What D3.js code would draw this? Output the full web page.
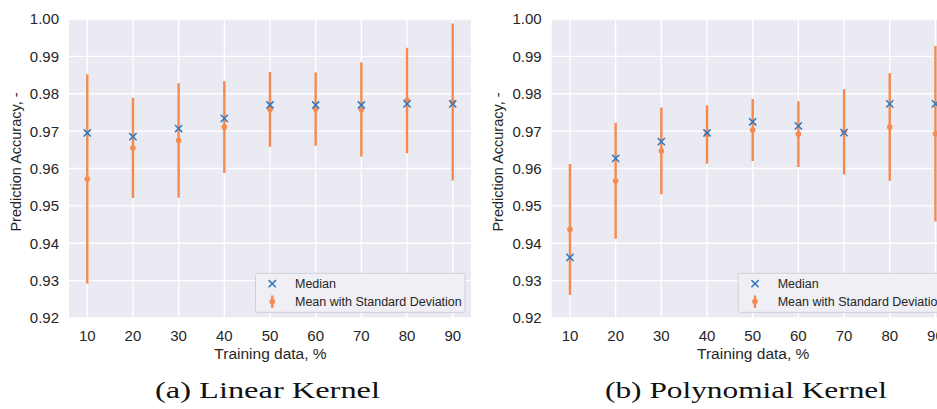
<!DOCTYPE html>
<html>
<head>
<meta charset="utf-8">
<script src="https://cdn.jsdelivr.net/npm/d3@7"></script>
<style>
  html, body { margin: 0; padding: 0; background: #ffffff; }
  svg { display: block; overflow: hidden; }
  text { font-family: "Liberation Sans", Arial, sans-serif; fill: #262626; }
  .cap { font-family: "Liberation Serif", "Times New Roman", serif; fill: #111; }
</style>
</head>
<body>
<svg id="chart" width="937" height="409"></svg>
<script>
// ---- data ----
const trainingPct = [10, 20, 30, 40, 50, 60, 70, 80, 90];
const yTicks = [0.92, 0.93, 0.94, 0.95, 0.96, 0.97, 0.98, 0.99, 1.00];

const linearMedian = [0.9695, 0.9685, 0.9707, 0.9734, 0.9770, 0.9770, 0.9770, 0.9773, 0.9773];
const linearMean   = [0.9572, 0.9655, 0.9675, 0.9711, 0.9758, 0.9759, 0.9758, 0.9782, 0.9778];
const linearStd    = [0.0280, 0.0134, 0.0153, 0.0123, 0.0100, 0.0098, 0.0126, 0.0141, 0.0210];

const polyMedian = [0.9362, 0.9627, 0.9672, 0.9695, 0.9725, 0.9714, 0.9696, 0.9773, 0.9773];
const polyMean   = [0.9437, 0.9567, 0.9647, 0.9691, 0.9703, 0.9692, 0.9698, 0.9711, 0.9693];
const polyStd    = [0.0175, 0.0155, 0.0116, 0.0078, 0.0083, 0.0088, 0.0114, 0.0144, 0.0235];

const panels = [
  { left: 69,    median: linearMedian, mean: linearMean, std: linearStd, caption: "(a) Linear Kernel",     capX: 267.5, capW: 225 },
  { left: 551.7, median: polyMedian,   mean: polyMean,   std: polyStd,   caption: "(b) Polynomial Kernel", capX: 746,   capW: 282 }
];

const xLabel = "Training data, %";
const yLabel = "Prediction Accuracy, -";
const legendLabels = ["Median", "Mean with Standard Deviation"];

// ---- styling ----
const BG = "#EAEAF2";
const ORANGE = "#F68A4F";
const BLUE = "#2F78C2";
const plotW = 402, plotTop = 19, plotBottom = 318;

const svg = d3.select("#chart");

panels.forEach(p => {
  const g = svg.append("g");
  const x = d3.scaleLinear().domain([6, 94]).range([p.left, p.left + plotW]);
  const y = d3.scaleLinear().domain([0.92, 1.00]).range([plotBottom, plotTop]);

  // background
  g.append("rect").attr("x", p.left).attr("y", plotTop)
    .attr("width", plotW).attr("height", plotBottom - plotTop).attr("fill", BG);

  // grid
  g.selectAll(".hg").data(yTicks).enter().append("line")
    .attr("x1", p.left).attr("x2", p.left + plotW)
    .attr("y1", d => y(d)).attr("y2", d => y(d))
    .attr("stroke", "#fff").attr("stroke-width", 1.3);
  g.selectAll(".vg").data(trainingPct).enter().append("line")
    .attr("x1", d => x(d)).attr("x2", d => x(d))
    .attr("y1", plotTop).attr("y2", plotBottom)
    .attr("stroke", "#fff").attr("stroke-width", 1.3);

  // tick labels
  g.selectAll(".yt").data(yTicks).enter().append("text")
    .attr("x", p.left - 10).attr("y", d => y(d) + 5.4)
    .attr("text-anchor", "end").attr("font-size", 15)
    .text(d => d.toFixed(2));
  g.selectAll(".xt").data(trainingPct).enter().append("text")
    .attr("x", d => x(d)).attr("y", 340.5)
    .attr("text-anchor", "middle").attr("font-size", 15)
    .text(d => d);

  // axis labels
  g.append("text").attr("x", p.left + plotW / 2 + 0.5).attr("y", 358.5)
    .attr("text-anchor", "middle").attr("font-size", 15.5).text(xLabel);
  g.append("text")
    .attr("transform", `translate(${p.left - 48.5},${162}) rotate(-90)`)
    .attr("text-anchor", "middle").attr("font-size", 14.5).text(yLabel);

  // error bars
  const rows = trainingPct.map((t, i) => ({ t, med: p.median[i], mean: p.mean[i], sd: p.std[i] }));
  g.selectAll(".eb").data(rows).enter().append("line")
    .attr("x1", d => x(d.t)).attr("x2", d => x(d.t))
    .attr("y1", d => y(d.mean - d.sd)).attr("y2", d => y(d.mean + d.sd))
    .attr("stroke", ORANGE).attr("stroke-width", 2.4);
  g.selectAll(".md").data(rows).enter().append("circle")
    .attr("cx", d => x(d.t)).attr("cy", d => y(d.mean)).attr("r", 2.8)
    .attr("fill", ORANGE);

  // medians (x markers)
  const cross = (sel, cx, cy, s) => {
    sel.append("path")
      .attr("d", `M${cx - s},${cy - s}L${cx + s},${cy + s}M${cx - s},${cy + s}L${cx + s},${cy - s}`)
      .attr("stroke", BLUE).attr("stroke-width", 1.5).attr("fill", "none");
  };
  rows.forEach(d => cross(g, x(d.t), y(d.med), 3.6));

  // legend
  const lx = p.left + plotW - 215.5, ly = 273.3;
  g.append("rect").attr("x", lx).attr("y", ly).attr("width", 209.5).attr("height", 39)
    .attr("rx", 2).attr("fill", "#EFEFF5").attr("stroke", "#CFCFD8").attr("stroke-width", 1);
  cross(g, lx + 16.8, 283.7, 3.6);
  g.append("line").attr("x1", lx + 16.8).attr("x2", lx + 16.8)
    .attr("y1", 295.5).attr("y2", 308).attr("stroke", ORANGE).attr("stroke-width", 2.4);
  g.append("circle").attr("cx", lx + 16.8).attr("cy", 301.5).attr("r", 2.8).attr("fill", ORANGE);
  legendLabels.forEach((t, i) => {
    g.append("text").attr("x", lx + 39.5).attr("y", [288.2, 305.6][i])
      .attr("font-size", 12.5).text(t);
  });

  // caption
  g.append("text").attr("class", "cap")
    .attr("x", p.capX).attr("y", 398).attr("text-anchor", "middle")
    .attr("font-size", 23)
    .attr("textLength", p.capW).attr("lengthAdjust", "spacingAndGlyphs")
    .text(p.caption);
});
</script>
</body>
</html>
